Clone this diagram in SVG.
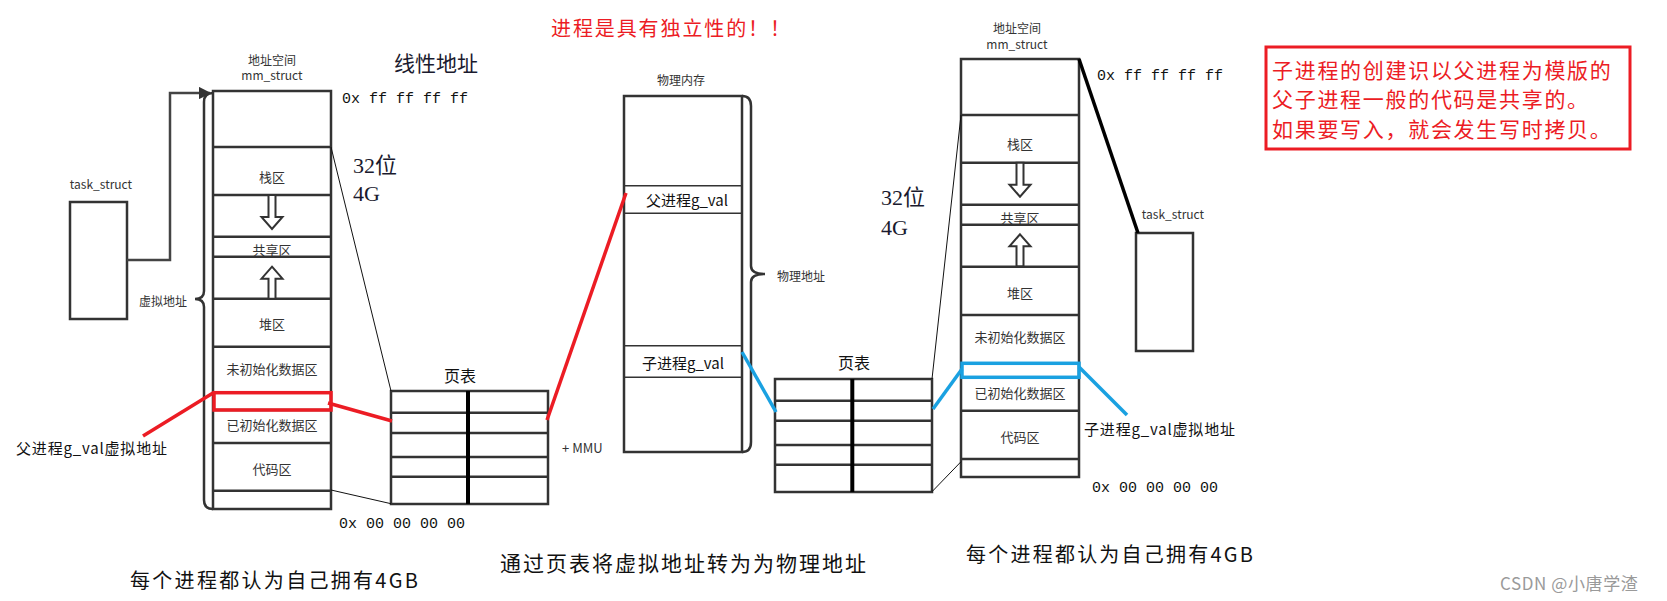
<svg xmlns="http://www.w3.org/2000/svg" xmlns:xlink="http://www.w3.org/1999/xlink" width="1667" height="601" viewBox="0 0 1667 601">
<style>
text{font-family:"Noto Sans CJK SC","Liberation Sans",sans-serif;dominant-baseline:central;fill:#222}
.box{fill:#fff;stroke:#333;stroke-width:2.5}
.ln{stroke:#333;stroke-width:2.5;fill:none}
.thin{stroke:#111;stroke-width:1;fill:none}
.mid{stroke:#000;stroke-width:4}
.red{stroke:#ec1c24;stroke-width:3.5;fill:none}
.blue{stroke:#1aa1e1;stroke-width:3.5;fill:none}
.s12{font-size:12px;text-anchor:middle;fill:#333}
.s13{font-size:13px;text-anchor:middle;fill:#333}
.mono{font-family:"Liberation Mono","Noto Sans CJK SC",monospace;font-size:15px;fill:#111}
.serif{font-family:"Liberation Serif","Noto Sans CJK SC",serif;font-size:22px;fill:#1a1a2e}
.big{font-size:20px;fill:#111}
.lbl{font-size:15px;fill:#111}
.note{font-size:21px;fill:#ec1c24;letter-spacing:1.7px}
.arr{fill:#fff;stroke:#333;stroke-width:2}
</style>
<defs>
<path id="down" class="arr" d="M-3.5,0 L3.5,0 L3.5,22 L10.5,22 L0,34 L-10.5,22 L-3.5,22 Z"/>
<path id="up" class="arr" d="M0,0 L10.5,12 L3.5,12 L3.5,32 L-3.5,32 L-3.5,12 L-10.5,12 Z"/>
<marker id="ah" viewBox="0 0 10 10" refX="9" refY="5" markerWidth="5" markerHeight="5" orient="auto" markerUnits="strokeWidth">
<path d="M0,0 L10,5 L0,10 Z" fill="#333"/>
</marker>
</defs>
<rect width="1667" height="601" fill="#fff"/>

<g id="title">
<text x="551" y="27" font-size="20" style="fill:#ec1c24" textLength="239" lengthAdjust="spacing">进程是具有独立性的！！</text>
</g>

<g id="left-task">
<text x="101" y="183" class="s12">task_struct</text>
<rect x="70" y="202" width="57" height="117" class="box"/>
</g>

<g id="left-mm">
<text x="272" y="59" class="s12">地址空间</text>
<text x="272" y="74" class="s12">mm_struct</text>
<rect x="213" y="91" width="118" height="418" class="box"/>
<path class="ln" d="M213,147H331M213,195H331M213,236.7H331M213,256.7H331M213,298.7H331M213,346.7H331M213,410H331M213,443H331M213,490.7H331"/>
<text x="272" y="176" class="s13">栈区</text>
<use href="#down" x="272" y="195"/>
<text x="272" y="249" class="s13">共享区</text>
<use href="#up" x="272" y="266.7"/>
<text x="272" y="323" class="s13">堆区</text>
<text x="272" y="368" class="s13">未初始化数据区</text>
<text x="272" y="424" class="s13">已初始化数据区</text>
<text x="272" y="468" class="s13">代码区</text>
<rect x="214" y="392.7" width="117" height="17.3" class="red"/>
<path class="ln" d="M213,93 Q204,93 204,102 V291 Q204,299 195,299 Q204,299 204,307 V500 Q204,509 213,509"/>
<text x="163" y="300" class="s12">虚拟地址</text>
<text x="342" y="99" class="mono">0x ff ff ff ff</text>
<text x="339" y="524" class="mono">0x 00 00 00 00</text>
<text x="436" y="62" font-size="21" style="fill:#1a1a2e" text-anchor="middle">线性地址</text>
<text x="353" y="165" class="serif">32位</text>
<text x="353" y="193" class="serif">4G</text>
<text x="16" y="447" class="lbl" textLength="151" lengthAdjust="spacing">父进程g_val虚拟地址</text>
<text x="130" y="579" class="big" textLength="288" lengthAdjust="spacing">每个进程都认为自己拥有4GB</text>
</g>

<g id="left-pagetable">
<text x="460" y="375" font-size="16" text-anchor="middle" style="fill:#111">页表</text>
<rect x="391" y="391" width="157" height="113" class="box"/>
<path class="ln" d="M391,412.7H548M391,433H548M391,457H548M391,476.7H548"/>
<line x1="468" y1="391" x2="468" y2="504" class="mid"/>
<text x="562" y="447" font-size="13" style="fill:#333">+ MMU</text>
</g>

<g id="physical">
<text x="681" y="79" class="s12">物理内存</text>
<rect x="624" y="96" width="118" height="356" class="box"/>
<path class="ln" d="M624,185.7H742M624,213.3H742M624,345.7H742M624,377.3H742" style="stroke-width:1.5"/>
<text x="687" y="199" class="lbl" text-anchor="middle">父进程g_val</text>
<text x="683" y="362" class="lbl" text-anchor="middle">子进程g_val</text>
<path class="ln" d="M742,96 Q751,96 751,106 V266 Q751,274 765,274 Q751,274 751,282 V442 Q751,452 742,452"/>
<text x="777" y="275" font-size="12" style="fill:#333">物理地址</text>
<text x="500" y="562" font-size="21" style="fill:#111" textLength="366" lengthAdjust="spacing">通过页表将虚拟地址转为为物理地址</text>
</g>

<g id="right-pagetable">
<text x="854" y="362" font-size="16" text-anchor="middle" style="fill:#111">页表</text>
<rect x="775" y="379" width="157" height="113" class="box"/>
<path class="ln" d="M775,400.7H932M775,420.7H932M775,445H932M775,464.7H932"/>
<line x1="852.3" y1="379" x2="852.3" y2="492" class="mid"/>
</g>

<g id="right-mm">
<text x="1017" y="27" class="s12">地址空间</text>
<text x="1017" y="43" class="s12">mm_struct</text>
<rect x="961" y="59" width="118" height="418" class="box"/>
<path class="ln" d="M961,115H1079M961,162.7H1079M961,204.7H1079M961,224.7H1079M961,266.7H1079M961,315H1079M961,377.3H1079M961,410.7H1079M961,459H1079"/>
<text x="1020" y="143" class="s13">栈区</text>
<use href="#down" x="1020" y="162.7"/>
<text x="1020" y="217" class="s13">共享区</text>
<use href="#up" x="1020" y="234.3"/>
<text x="1020" y="292" class="s13">堆区</text>
<text x="1020" y="336" class="s13">未初始化数据区</text>
<text x="1020" y="392" class="s13">已初始化数据区</text>
<text x="1020" y="436" class="s13">代码区</text>
<rect x="962" y="363.3" width="117" height="14" class="blue"/>
<text x="1097" y="76" class="mono">0x ff ff ff ff</text>
<text x="1092" y="488" class="mono">0x 00 00 00 00</text>
<text x="881" y="197" class="serif">32位</text>
<text x="881" y="227" class="serif">4G</text>
<text x="1084" y="428" class="lbl" textLength="151" lengthAdjust="spacing">子进程g_val虚拟地址</text>
<text x="966" y="553" class="big" textLength="287" lengthAdjust="spacing">每个进程都认为自己拥有4GB</text>
</g>

<g id="right-task">
<text x="1173" y="213" class="s12">task_struct</text>
<rect x="1136" y="233" width="57" height="118" class="box"/>
</g>

<g id="note">
<rect x="1266" y="47" width="364" height="102" fill="none" stroke="#ec1c24" stroke-width="3"/>
<text x="1272" y="69" class="note">子进程的创建识以父进程为模版的</text>
<text x="1272" y="98" class="note">父子进程一般的代码是共享的。</text>
<text x="1272" y="128" class="note">如果要写入，就会发生写时拷贝。</text>
</g>

<g id="connectors">
<path d="M127,260 H170 V93 H210" stroke="#444" stroke-width="2.5" fill="none" marker-end="url(#ah)"/>
<line x1="331" y1="147" x2="391" y2="391" class="thin"/>
<line x1="331" y1="490" x2="391" y2="503.7" class="thin"/>
<line x1="961" y1="115" x2="932" y2="379" class="thin"/>
<line x1="961" y1="461.7" x2="932" y2="491.7" class="thin"/>
<line x1="1079" y1="59" x2="1138" y2="233" stroke="#000" stroke-width="3.5"/>
<line x1="143" y1="436" x2="213" y2="393" class="red"/>
<line x1="328" y1="403" x2="392" y2="421" class="red"/>
<line x1="547" y1="420" x2="626" y2="193" class="red"/>
<line x1="742" y1="352" x2="776" y2="412" class="blue"/>
<line x1="933" y1="409" x2="962" y2="369" class="blue"/>
<line x1="1079" y1="367" x2="1127" y2="415" class="blue"/>
</g>

<g id="watermark">
<text x="1500" y="582" font-size="17" letter-spacing="0.6" style="fill:#9a9a9a">CSDN @小唐学渣</text>
</g>
</svg>
